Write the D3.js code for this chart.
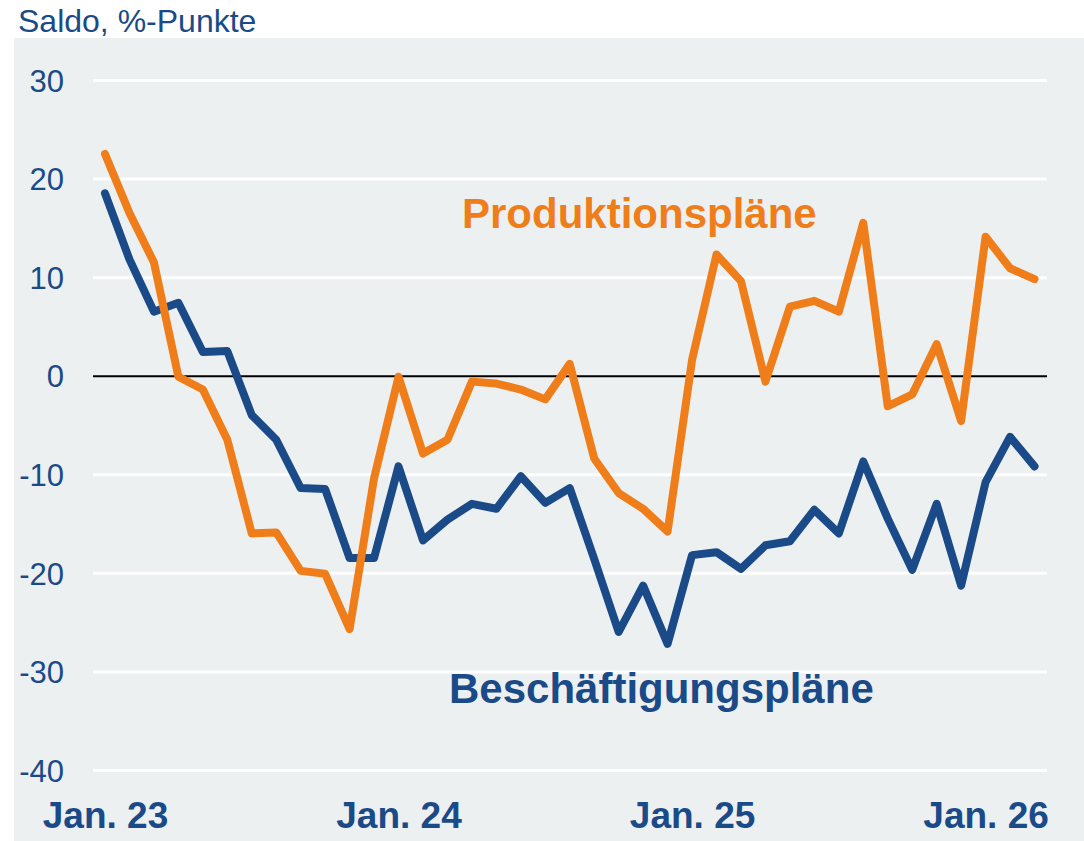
<!DOCTYPE html>
<html>
<head>
<meta charset="utf-8">
<script src="https://cdn.jsdelivr.net/npm/d3@7"></script>
<style>
  html, body { margin: 0; padding: 0; background: #ffffff; }
  svg { display: block; }
</style>
</head>
<body>
<div id="chart"></div>
<script>
// ─── Data ───────────────────────────────────────────────────────
const months = [
  '2023-01', '2023-02', '2023-03', '2023-04', '2023-05', '2023-06', '2023-07', '2023-08', '2023-09', '2023-10', '2023-11', '2023-12',
  '2024-01', '2024-02', '2024-03', '2024-04', '2024-05', '2024-06', '2024-07', '2024-08', '2024-09', '2024-10', '2024-11', '2024-12',
  '2025-01', '2025-02', '2025-03', '2025-04', '2025-05', '2025-06', '2025-07', '2025-08', '2025-09', '2025-10', '2025-11', '2025-12',
  '2026-01', '2026-02', '2026-03'
];

const produktion = [
  22.5, 16.5, 11.5, -0.1, -1.4, -6.5, -16.0, -15.9, -19.8, -20.1, -25.7, -10.4,
  -0.1, -7.9, -6.5, -0.6, -0.8, -1.4, -2.4, 1.2, -8.4, -11.9, -13.5, -15.8,
  1.6, 12.3, 9.6, -0.6, 7.0, 7.6, 6.5, 15.5, -3.1, -1.9, 3.2, -4.6,
  14.1, 10.9, 9.8
];

const beschaeftigung = [
  18.5, 11.8, 6.5, 7.4, 2.4, 2.5, -4.0, -6.5, -11.4, -11.5, -18.5, -18.5,
  -9.2, -16.7, -14.6, -13.0, -13.5, -10.2, -12.9, -11.4, -18.6, -26.0, -21.3, -27.2,
  -18.2, -17.9, -19.6, -17.2, -16.8, -13.6, -16.0, -8.7, -14.5, -19.7, -13.0, -21.3,
  -10.8, -6.2, -9.2
];

const yTicks = [-40, -30, -20, -10, 0, 10, 20, 30];
const xTickMonths = ['2023-01', '2024-01', '2025-01', '2026-01'];
const xTickLabels = ['Jan. 23', 'Jan. 24', 'Jan. 25', 'Jan. 26'];

// ─── Layout ─────────────────────────────────────────────────────
const width = 1084;
const height = 841;
const BLUE = '#1a4a87';
const ORANGE = '#ef7e1a';
const FONT = "'Liberation Sans', Arial, Helvetica, sans-serif";

const svg = d3.select('#chart')
  .append('svg')
  .attr('width', width)
  .attr('height', height);

// plot background
svg.append('rect')
  .attr('x', 14)
  .attr('y', 38)
  .attr('width', width - 14)
  .attr('height', height - 38)
  .attr('fill', '#edf0f1');

const x = d3.scaleLinear()
  .domain([0, months.length - 1])
  .range([105, 1034.5]);

const y = d3.scaleLinear()
  .domain([-40, 30])
  .range([770, 80]);

// ── Gridlines ───────────────────────────────────────────────────
const grid = svg.append('g')
  .attr('transform', 'translate(93,0)')
  .call(d3.axisLeft(y).tickValues(yTicks).tickSize(-(1047 - 93)).tickFormat(''));
grid.select('.domain').remove();
grid.selectAll('.tick line')
  .attr('stroke', d => d === 0 ? '#000000' : '#ffffff')
  .attr('stroke-width', d => d === 0 ? 2 : 3);
grid.selectAll('.tick').filter(d => d === 0).raise();

// ── Y labels (plain hyphen minus like the original) ─────────────
const yAxis = svg.append('g')
  .attr('transform', 'translate(64,0)')
  .call(d3.axisLeft(y).tickValues(yTicks).tickSize(0).tickPadding(0)
    .tickFormat(d => String(d)));
yAxis.select('.domain').remove();
yAxis.selectAll('text')
  .attr('fill', BLUE)
  .attr('font-family', FONT)
  .attr('font-size', 31)
  .attr('dy', '0.36em');

// ── X labels ────────────────────────────────────────────────────
const xAxis = svg.append('g')
  .attr('transform', 'translate(0,828)')
  .call(d3.axisBottom(x)
    .tickValues(xTickMonths.map(m => months.indexOf(m)))
    .tickSize(0)
    .tickPadding(0)
    .tickFormat((d, i) => xTickLabels[i]));
xAxis.select('.domain').remove();
xAxis.selectAll('text')
  .attr('fill', BLUE)
  .attr('font-family', FONT)
  .attr('font-size', 37)
  .attr('font-weight', 'bold')
  .attr('dy', 0);

// ── Lines ───────────────────────────────────────────────────────
const line = d3.line()
  .x((d, i) => x(i))
  .y(d => y(d));

svg.append('path')
  .datum(beschaeftigung)
  .attr('d', line)
  .attr('fill', 'none')
  .attr('stroke', BLUE)
  .attr('stroke-width', 8)
  .attr('stroke-linejoin', 'round')
  .attr('stroke-linecap', 'round');

svg.append('path')
  .datum(produktion)
  .attr('d', line)
  .attr('fill', 'none')
  .attr('stroke', ORANGE)
  .attr('stroke-width', 8)
  .attr('stroke-linejoin', 'round')
  .attr('stroke-linecap', 'round');

// ── Titles & series labels ──────────────────────────────────────
svg.append('text')
  .attr('x', 18)
  .attr('y', 32)
  .attr('fill', BLUE)
  .attr('font-family', FONT)
  .attr('font-size', 32)
  .text('Saldo, %-Punkte');

svg.append('text')
  .attr('x', 462)
  .attr('y', 228)
  .attr('fill', ORANGE)
  .attr('font-family', FONT)
  .attr('font-size', 42)
  .attr('font-weight', 'bold')
  .text('Produktionspläne');

svg.append('text')
  .attr('x', 449)
  .attr('y', 703)
  .attr('fill', BLUE)
  .attr('font-family', FONT)
  .attr('font-size', 42)
  .attr('font-weight', 'bold')
  .text('Beschäftigungspläne');
</script>
</body>
</html>
